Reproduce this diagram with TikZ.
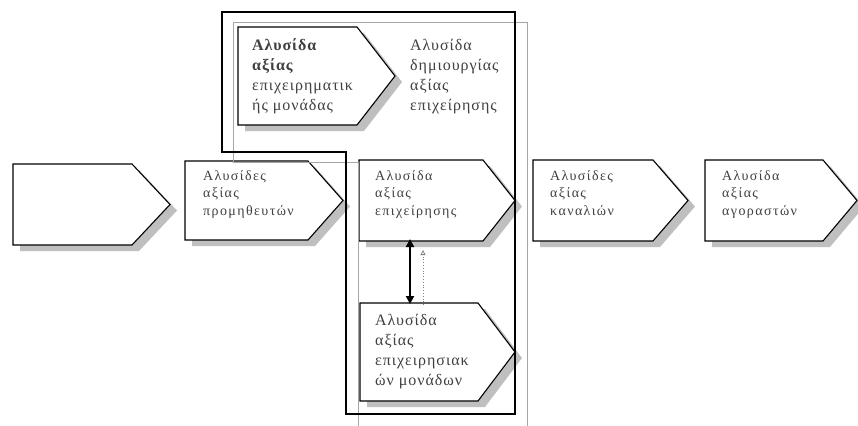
\documentclass[tikz,border=0pt]{standalone}
\usepackage{fontspec}
\setmainfont{Liberation Serif}
\usetikzlibrary{arrows.meta}
\newcommand\mychev[6]{%
  \fill[shad] (#2+7,#3+6) -- (#5+7,#3+6) -- (#6+7,{(#3+#4)/2+6}) -- (#5+7,#4+6) -- (#2+7,#4+6) -- cycle;
  \draw[chev] (#2,#3) -- (#5,#3) -- (#6,{(#3+#4)/2}) -- (#5,#4) -- (#2,#4) -- cycle;
  \coordinate (#1-nw) at (#2,#3);
  \coordinate (#1-sw) at (#2,#4);
}
\begin{document}
\begin{tikzpicture}[x=1pt,y=-1pt,
  chev/.style={draw=black,line width=1.1pt,fill=white,line join=miter},
  shad/.style={fill=gray!50,draw=none},
  lblS/.style={text=black!75,font=\fontsize{14}{17.5}\selectfont\addfontfeature{LetterSpace=10},align=left,anchor=north west,inner sep=0pt},
  lblL/.style={text=black!75,font=\fontsize{16}{20}\selectfont\addfontfeature{LetterSpace=6},align=left,anchor=north west,inner sep=0pt},
  thinframe/.style={draw=gray!70,line width=0.8pt},
  thickframe/.style={draw=black,line width=1.8pt,line join=miter}]
\useasboundingbox (0,0) rectangle (858,425);
\fill[white] (0,0) rectangle (858,425);

\mychev{b1}{13}{164}{245}{132}{170}
\mychev{b2}{185}{161}{240}{308}{343}
\mychev{b3}{359}{160}{241}{483}{515}
\mychev{b4}{533}{160}{241}{653}{688}
\mychev{b5}{705}{160}{241}{823}{857}
\mychev{bt}{238}{27}{125}{357}{395}
\mychev{bb}{360}{303}{401}{478}{515}

% frames
\draw[thinframe] (527,426) -- (527,22) -- (233,22) -- (233,162) -- (358,162) -- (358,426);
\draw[thickframe] (222,12) -- (515,12) -- (515,414) -- (346,414) -- (346,152) -- (222,152) -- cycle;

% texts
\node[lblS] (t2) at (203,168) {\rule{0pt}{12pt}Αλυσίδες\\αξίας\\προμηθευτών};
\node[lblS] (t3) at (375,168) {\rule{0pt}{12pt}Αλυσίδα\\αξίας\\επιχείρησης};
\node[lblS] (t4) at (550,168) {\rule{0pt}{12pt}Αλυσίδες\\αξίας\\καναλιών};
\node[lblS] (t5) at (722,168) {\rule{0pt}{12pt}Αλυσίδα\\αξίας\\αγοραστών};
\node[lblL] (tt) at (252,37) {\rule{0pt}{13pt}\textbf{Αλυσίδα}\\\textbf{αξίας}\\επιχειρηματικ\\ής μονάδας};
\node[lblL] (tr) at (410,37) {\rule{0pt}{13pt}Αλυσίδα\\δημιουργίας\\αξίας\\επιχείρησης};
\node[lblL] (tb) at (375,312) {\rule{0pt}{13pt}Αλυσίδα\\αξίας\\επιχειρησιακ\\ών μονάδων};

% connectors
\coordinate (a1) at (410,239);
\coordinate (a2) at (410,304);
\draw[line width=2pt,{Triangle[length=8pt,width=8pt]}-{Triangle[length=8pt,width=8pt]}] (a1) -- (a2);
\coordinate (d1) at (423,305);
\coordinate (d2) at (423,250);
\draw[gray,dotted,line width=0.8pt,-{Triangle[open,length=5pt,width=5pt]}] (d1) -- (d2);
\end{tikzpicture}
\end{document}
